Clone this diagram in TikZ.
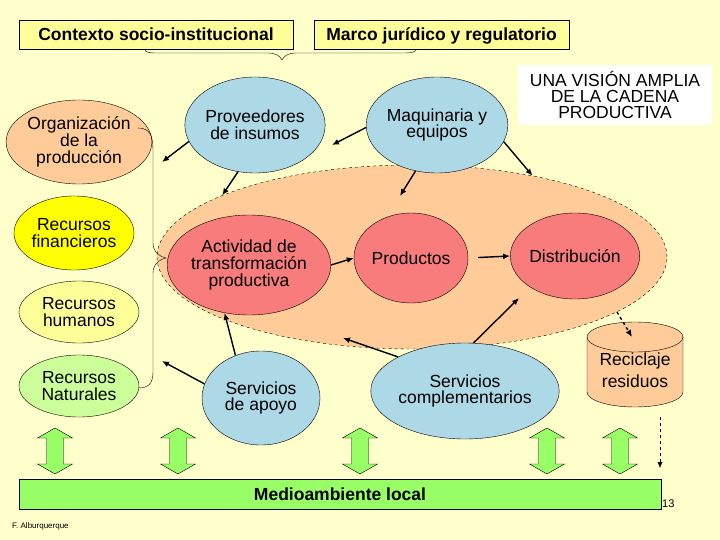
\documentclass[tikz,border=0pt]{standalone}
\usepackage{fontspec}
\setmainfont{Liberation Sans}
\usetikzlibrary{shapes.geometric, arrows.meta, positioning}
\definecolor{fondo}{HTML}{FFFFCC}
\definecolor{durazno}{HTML}{FFCC99}
\definecolor{rojo}{HTML}{F87C7C}
\definecolor{celeste}{HTML}{ADD8E6}
\definecolor{amarillo}{HTML}{FFFF00}
\definecolor{crema}{HTML}{FFFF99}
\definecolor{verdeclaro}{HTML}{CCFF99}
\definecolor{verde}{HTML}{99FF66}

\begin{document}
\begin{tikzpicture}
      [x=1pt, y=-1pt,
       txt/.style={align=center, font=\fontsize{17.5}{16.7}\selectfont},
       oval/.style={ellipse, draw, inner sep=0pt, txt},
       caja/.style={draw, fill=crema, inner sep=0pt, text height=13pt, text depth=0pt,
                    font=\bfseries\fontsize{17.5}{17.5}\selectfont},
       flecha/.style={-{Latex[length=7pt,width=6pt]}, line width=1.4},
       doble/.pic={\draw[fill=verde] (0,-23) -- (17.5,-13) -- (8.5,-13) -- (8.5,13) -- (17.5,13)
                     -- (0,23) -- (-17.5,13) -- (-8.5,13) -- (-8.5,-13) -- (-17.5,-13) -- cycle;}]
      \useasboundingbox (0,0) rectangle (720,540);
      \fill[fondo] (0,0) rectangle (720,540);

      % nodes %
      \node[ellipse, draw, dashed, fill=durazno, minimum width=510pt, minimum height=184pt] (cadena) at (412,257) {};

      \node[caja, minimum width=274pt, minimum height=29pt] (contexto) at (156,34.5) {Contexto socio-institucional};
      \node[caja, minimum width=255pt, minimum height=29pt] (marco) at (441.5,34.5) {Marco jurídico y regulatorio};
      \node[fill=white, minimum width=194pt, minimum height=60pt, txt, font=\fontsize{17.5}{16.2}\selectfont] (vision) at (615,95) {UNA VISIÓN AMPLIA\\DE LA CADENA\\PRODUCTIVA};

      \node[oval, fill=durazno, minimum width=118pt, minimum height=84pt] (org) at (79,142) {Organización\\de la\\producción};
      \node[oval, fill=amarillo, minimum width=120pt, minimum height=74pt] (fin) at (74,233) {Recursos\\financieros};
      \node[oval, fill=crema, minimum width=120pt, minimum height=62pt] (hum) at (79,312) {Recursos\\humanos};
      \node[oval, fill=verdeclaro, minimum width=120pt, minimum height=62pt] (nat) at (79,386) {Recursos\\Naturales};

      \node[oval, fill=celeste, minimum width=120pt, minimum height=96pt] (prov) at (255,125) {Proveedores\\de insumos};
      \node[oval, fill=celeste, minimum width=120pt, minimum height=96pt] (maq) at (437,125) {Maquinaria y\\equipos};
      \node[oval, fill=rojo, minimum width=130pt, minimum height=100pt] (act) at (249,265) {Actividad de\\transformación\\productiva};
      \node[oval, fill=rojo, minimum width=114pt, minimum height=90pt] (prod) at (411,258) {Productos};
      \node[oval, fill=rojo, minimum width=114pt, minimum height=86pt] (dist) at (575,256) {Distribución};
      \node[oval, fill=celeste, minimum width=118pt, minimum height=94pt] (apoyo) at (261,398) {Servicios\\de apoyo};
      \node[oval, fill=celeste, minimum width=142pt, minimum height=96pt] (compl) at (465,391) {Servicios\\complementarios};

      \draw[fill=durazno] (587,337) -- (587,392) arc[start angle=180, end angle=0, x radius=48, y radius=15]
        -- (683,337) arc[start angle=0, end angle=-180, x radius=48, y radius=15] -- cycle;
      \draw (587,337) arc[start angle=180, end angle=0, x radius=48, y radius=15];
      \node[txt, font=\fontsize{17.5}{22}\selectfont] (recic) at (635,370) {Reciclaje\\residuos};

      \node[draw, fill=verde, minimum width=642pt, minimum height=30pt, text height=13pt, text depth=0pt,
            font=\bfseries\fontsize{17.5}{17.5}\selectfont] (medio) at (340,494) {Medioambiente local};
      \foreach \x in {55,178,360,547,620}
        \pic (da\x) at (\x,451) {doble};

      \node[anchor=west, inner sep=0pt, font=\fontsize{11}{11}\selectfont] (pag) at (662,504) {13};
      \node[anchor=west, inner sep=0pt, font=\fontsize{8}{8}\selectfont] (autor) at (12,526) {F. Alburquerque};

      \coordinate (pl) at (162,162);
      \coordinate (ml) at (332,145);
      \coordinate (mp) at (400,196);
      \coordinate (cd) at (519,298);
      \coordinate (cl) at (343,338);
      \coordinate (al) at (162,361);
      \coordinate (rtop) at (632,337);
      \coordinate (rb) at (660,417);
      \coordinate (mb) at (660,468);

      % braces %
      \draw[thin] (138,128) .. controls (150,128) and (153,136) .. (153,150) -- (153,243)
        .. controls (153,252) and (160,257) .. (166,258) .. controls (160,259) and (153,264) .. (153,273)
        -- (153,372) .. controls (153,384) and (148,388) .. (138,388);
      \draw[thin] (145,49) .. controls (145,53) and (150,53) .. (158,53) -- (268,53)
        .. controls (276,53) and (280,56) .. (282,60) .. controls (284,56) and (288,53) .. (296,53)
        -- (404,53) .. controls (412,53) and (416,52) .. (416,49);

      % edges %
      \draw[flecha] (prov.194) -- (pl);
      \draw[flecha] (prov.-110) -- (cadena.162);
      \draw[flecha] (maq.182) -- (ml);
      \draw[flecha] (maq.-115) -- (mp);
      \draw[flecha] (maq.-14) -- (cadena.34);
      \draw[flecha] (act.east) -- (prod.west);
      \draw[flecha, shorten <=10pt] (prod.east) -- (dist.west);
      \draw[flecha] (compl.80) -- (cd);
      \draw[flecha] (compl.153) -- (cl);
      \draw[flecha] (apoyo.121) -- (act.-117);
      \draw[flecha] (apoyo.166) -- (al);
      \draw[flecha, dashed] (cadena.-15) -- (rtop);
      \draw[-{Latex[length=6pt,width=5pt]}, dashed] (rb) -- (mb);

\end{tikzpicture}
\end{document}
